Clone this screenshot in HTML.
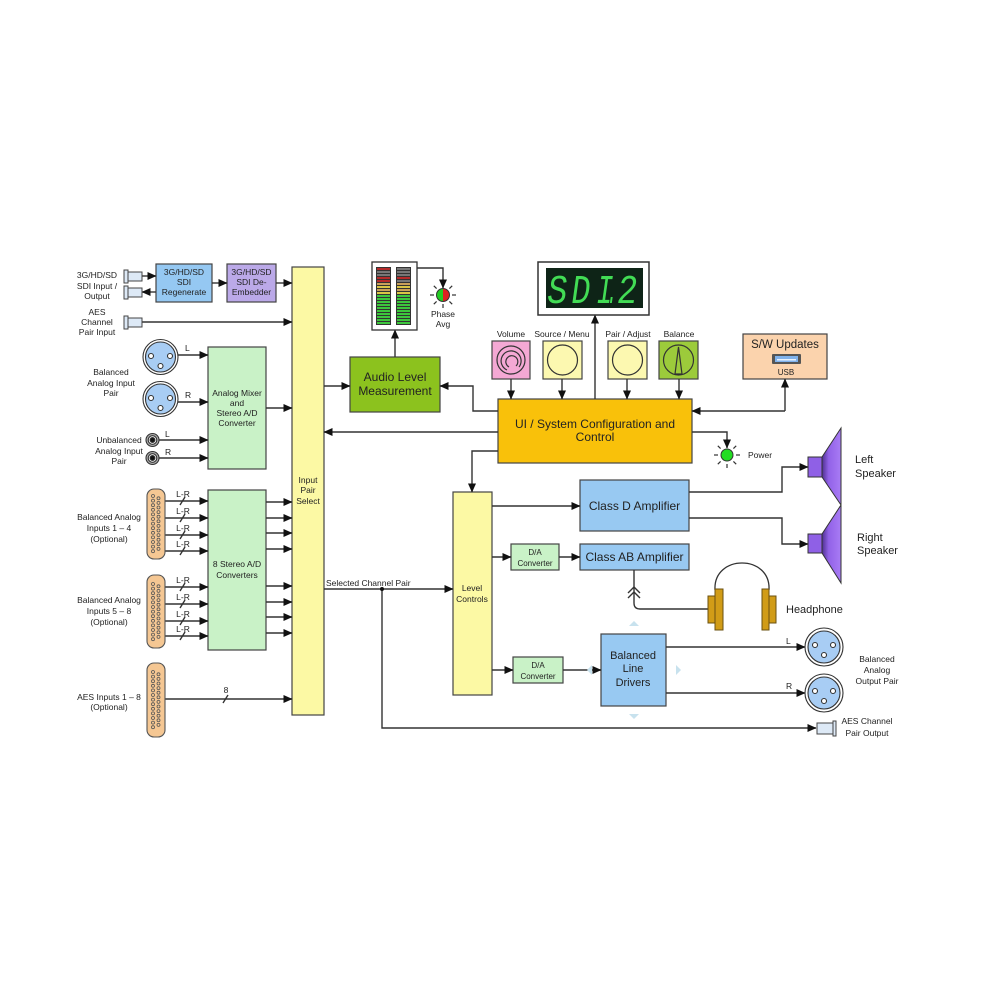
<!DOCTYPE html>
<html><head><meta charset="utf-8">
<style>
html,body{margin:0;padding:0;background:#fff;}
svg{display:block;}
text{font-family:"Liberation Sans",Arial,sans-serif;fill:#222;}
.s{font-size:8.5px;}
.m{text-anchor:middle;}
.b{font-size:12px;}
.ln{stroke:#333;stroke-width:1.4;fill:none;}
.bx{stroke:#444;stroke-width:1.2;}
</style></head><body>
<svg width="1000" height="1000" viewBox="0 0 1000 1000" xmlns="http://www.w3.org/2000/svg">
<defs>
<marker id="a" markerWidth="9" markerHeight="8" refX="8.5" refY="4" orient="auto" markerUnits="userSpaceOnUse"><path d="M0,0 L9,4 L0,8 z" fill="#111"/></marker>
<linearGradient id="cone" x1="0" x2="1" y1="0" y2="0"><stop offset="0" stop-color="#4e3090"/><stop offset="0.35" stop-color="#9262e8"/><stop offset="1" stop-color="#a97cf5"/></linearGradient>
<g id="pinsA" fill="none" stroke="#555" stroke-width="0.8">
<circle cx="0" cy="0" r="1.5"/><circle cx="0" cy="4.6" r="1.5"/><circle cx="0" cy="9.2" r="1.5"/><circle cx="0" cy="13.8" r="1.5"/><circle cx="0" cy="18.4" r="1.5"/><circle cx="0" cy="23" r="1.5"/><circle cx="0" cy="27.6" r="1.5"/><circle cx="0" cy="32.2" r="1.5"/><circle cx="0" cy="36.8" r="1.5"/><circle cx="0" cy="41.4" r="1.5"/><circle cx="0" cy="46" r="1.5"/><circle cx="0" cy="50.6" r="1.5"/><circle cx="0" cy="55.2" r="1.5"/>
<circle cx="5.5" cy="2.3" r="1.5"/><circle cx="5.5" cy="6.9" r="1.5"/><circle cx="5.5" cy="11.5" r="1.5"/><circle cx="5.5" cy="16.1" r="1.5"/><circle cx="5.5" cy="20.7" r="1.5"/><circle cx="5.5" cy="25.3" r="1.5"/><circle cx="5.5" cy="29.9" r="1.5"/><circle cx="5.5" cy="34.5" r="1.5"/><circle cx="5.5" cy="39.1" r="1.5"/><circle cx="5.5" cy="43.7" r="1.5"/><circle cx="5.5" cy="48.3" r="1.5"/><circle cx="5.5" cy="52.9" r="1.5"/>
</g>
</defs>

<!-- ===== Boxes ===== -->
<rect class="bx" x="292" y="267" width="32" height="448" fill="#fcf9a4"/>
<rect class="bx" x="453" y="492" width="39" height="203" fill="#fcf9a4"/>
<rect class="bx" x="156" y="264" width="56" height="38" fill="#95c8f2"/>
<rect class="bx" x="227" y="264" width="49" height="38" fill="#bba9e8"/>
<rect class="bx" x="208" y="347" width="58" height="122" fill="#c9f2c7"/>
<rect class="bx" x="208" y="490" width="58" height="160" fill="#c9f2c7"/>
<rect class="bx" x="350" y="357" width="90" height="55" fill="#8cc21e"/>
<rect class="bx" x="498" y="399" width="194" height="64" fill="#f9c10a"/>
<rect class="bx" x="743" y="334" width="84" height="45" fill="#fbd3ad"/>
<rect class="bx" x="580" y="480" width="109" height="51" fill="#98c9f2"/>
<rect class="bx" x="580" y="544" width="109" height="26" fill="#98c9f2"/>
<rect class="bx" x="511" y="544" width="48" height="26" fill="#c9f2c7"/>
<rect class="bx" x="513" y="657" width="50" height="26" fill="#c9f2c7"/>
<rect class="bx" x="601" y="634" width="65" height="72" fill="#98c9f2"/>

<!-- control boxes -->
<rect class="bx" x="492" y="341" width="38" height="38" fill="#f4a8d4"/>
<rect class="bx" x="543" y="341" width="39" height="38" fill="#fcf8b0"/>
<rect class="bx" x="608" y="341" width="39" height="38" fill="#fcf8b0"/>
<rect class="bx" x="659" y="341" width="39" height="38" fill="#9ccb3b"/>
<g fill="none" stroke="#333" stroke-width="1.2">
<circle cx="511" cy="360" r="14"/>
<path d="M507 370 A10 10 0 1 1 519 367"/>
<path d="M509 367 A6 6 0 1 1 516 366"/>
<circle cx="562.5" cy="360" r="15"/>
<circle cx="627.5" cy="360" r="15"/>
<circle cx="678.5" cy="360" r="15"/>
<path d="M675 374 L682 374 L678.5 347 Z"/>
</g>

<!-- ===== Connectors (lines) ===== -->
<g class="ln">
<path d="M142 276 H156" marker-end="url(#a)"/>
<path d="M156 292 H142" marker-end="url(#a)"/>
<path d="M212 283 H227" marker-end="url(#a)"/>
<path d="M276 283 H292" marker-end="url(#a)"/>
<path d="M142 322 H292" marker-end="url(#a)"/>
<path d="M178 355 H208" marker-end="url(#a)"/>
<path d="M178 402 H208" marker-end="url(#a)"/>
<path d="M159 440 H208" marker-end="url(#a)"/>
<path d="M159 458 H208" marker-end="url(#a)"/>
<path d="M266 408 H292" marker-end="url(#a)"/>
<path d="M165 501 H208" marker-end="url(#a)"/>
<path d="M165 518 H208" marker-end="url(#a)"/>
<path d="M165 535 H208" marker-end="url(#a)"/>
<path d="M165 551 H208" marker-end="url(#a)"/>
<path d="M165 587 H208" marker-end="url(#a)"/>
<path d="M165 604 H208" marker-end="url(#a)"/>
<path d="M165 621 H208" marker-end="url(#a)"/>
<path d="M165 636 H208" marker-end="url(#a)"/>
<path d="M266 502 H292" marker-end="url(#a)"/>
<path d="M266 518 H292" marker-end="url(#a)"/>
<path d="M266 533 H292" marker-end="url(#a)"/>
<path d="M266 549 H292" marker-end="url(#a)"/>
<path d="M266 586 H292" marker-end="url(#a)"/>
<path d="M266 602 H292" marker-end="url(#a)"/>
<path d="M266 617 H292" marker-end="url(#a)"/>
<path d="M266 633 H292" marker-end="url(#a)"/>
<path d="M165 699 H292" marker-end="url(#a)"/>
<path d="M324 386 H350" marker-end="url(#a)"/>
<path d="M498 411 H473 V386 H440" marker-end="url(#a)"/>
<path d="M395 357 V330" marker-end="url(#a)"/>
<path d="M417 268 H443 V288" marker-end="url(#a)"/>
<path d="M498 432 H324" marker-end="url(#a)"/>
<path d="M498 451 H472 V492" marker-end="url(#a)"/>
<path d="M595 399 V315" marker-end="url(#a)"/>
<path d="M511 379 V399" marker-end="url(#a)"/>
<path d="M562 379 V399" marker-end="url(#a)"/>
<path d="M627 379 V399" marker-end="url(#a)"/>
<path d="M679 379 V399" marker-end="url(#a)"/>
<path d="M785 411 H692" marker-end="url(#a)"/>
<path d="M785 411 V379" marker-end="url(#a)"/>
<path d="M692 432 H727 V448" marker-end="url(#a)"/>
<path d="M492 506 H580" marker-end="url(#a)"/>
<path d="M689 492 H782 V467 H808" marker-end="url(#a)"/>
<path d="M689 518 H782 V544 H808" marker-end="url(#a)"/>
<path d="M492 557 H511" marker-end="url(#a)"/>
<path d="M559 557 H580" marker-end="url(#a)"/>
<path d="M634 570 V603 Q634 609 640 609 H708"/>
<path d="M628 593 L634 587 L640 593"/>
<path d="M628 598 L634 592 L640 598"/>
<path d="M324 589 H453" marker-end="url(#a)"/>
<path d="M382 589 V728 H816" marker-end="url(#a)"/>
<path d="M492 670 H513" marker-end="url(#a)"/>
<path d="M563 670 H601" marker-end="url(#a)"/>
<path d="M666 647 H805" marker-end="url(#a)"/>
<path d="M666 693 H805" marker-end="url(#a)"/>
<!-- bus slashes -->
<path d="M180 505 L185 497"/><path d="M180 522 L185 514"/><path d="M180 539 L185 531"/><path d="M180 555 L185 547"/>
<path d="M180 591 L185 583"/><path d="M180 608 L185 600"/><path d="M180 625 L185 617"/><path d="M180 640 L185 632"/>
<path d="M223 703 L228 695"/>
</g>
<circle cx="382" cy="589" r="2" fill="#111"/>

<!-- BNC style connectors -->
<g stroke="#444" stroke-width="1">
<rect x="124" y="270" width="4" height="13" fill="#dde9f6"/><rect x="128" y="272" width="14" height="9" fill="#dde9f6"/>
<rect x="124" y="286" width="4" height="13" fill="#dde9f6"/><rect x="128" y="288" width="14" height="9" fill="#dde9f6"/>
<rect x="124" y="316" width="4" height="13" fill="#dde9f6"/><rect x="128" y="318" width="14" height="9" fill="#dde9f6"/>
<rect x="817" y="723" width="16" height="11" fill="#dde9f6"/><rect x="833" y="721" width="3" height="15" fill="#dde9f6"/>
</g>

<!-- XLR connectors -->
<g stroke="#333" stroke-width="1.1">
<circle cx="160.5" cy="357" r="17.5" fill="#fff"/><circle cx="160.5" cy="357" r="15" fill="#a8cdf4"/>
<circle cx="151" cy="356" r="2.5" fill="#fff"/><circle cx="170" cy="356" r="2.5" fill="#fff"/><circle cx="160.5" cy="366" r="2.5" fill="#fff"/>
<circle cx="160.5" cy="399" r="17.5" fill="#fff"/><circle cx="160.5" cy="399" r="15" fill="#a8cdf4"/>
<circle cx="151" cy="398" r="2.5" fill="#fff"/><circle cx="170" cy="398" r="2.5" fill="#fff"/><circle cx="160.5" cy="408" r="2.5" fill="#fff"/>
<circle cx="824" cy="647" r="19" fill="#fff"/><circle cx="824" cy="647" r="16" fill="#a8cdf4"/>
<circle cx="815" cy="645" r="2.5" fill="#fff"/><circle cx="833" cy="645" r="2.5" fill="#fff"/><circle cx="824" cy="655" r="2.5" fill="#fff"/>
<circle cx="824" cy="693" r="19" fill="#fff"/><circle cx="824" cy="693" r="16" fill="#a8cdf4"/>
<circle cx="815" cy="691" r="2.5" fill="#fff"/><circle cx="833" cy="691" r="2.5" fill="#fff"/><circle cx="824" cy="701" r="2.5" fill="#fff"/>
<!-- RCA -->
<circle cx="152.5" cy="440" r="6.5" fill="#aaa"/><circle cx="152.5" cy="440" r="4.3" fill="#fff"/><circle cx="152.5" cy="440" r="2.4" fill="#111"/>
<circle cx="152.5" cy="458" r="6.5" fill="#aaa"/><circle cx="152.5" cy="458" r="4.3" fill="#fff"/><circle cx="152.5" cy="458" r="2.4" fill="#111"/>
</g>

<!-- DB connectors -->
<g stroke="#555" stroke-width="1.1" fill="#f5c793">
<rect x="147" y="489" width="18" height="70" rx="7"/>
<rect x="147" y="575" width="18" height="73" rx="7"/>
<rect x="147" y="663" width="18" height="74" rx="7"/>
</g>
<use href="#pinsA" x="153" y="496"/>
<use href="#pinsA" x="153" y="584"/>
<use href="#pinsA" x="153" y="672"/>

<!-- Level meter -->
<rect x="372" y="262" width="45" height="68" fill="#fff" stroke="#333" stroke-width="1.3"/>
<rect x="376" y="267" width="15" height="58" fill="#333"/>
<rect x="396" y="267" width="15" height="58" fill="#333"/>
<g>
<rect x="377" y="268" width="13" height="2" fill="#b52a2a"/><rect x="377" y="271" width="13" height="2" fill="#777"/><rect x="377" y="274" width="13" height="2" fill="#777"/><rect x="377" y="277" width="13" height="2" fill="#b52a2a"/><rect x="377" y="280" width="13" height="2" fill="#b52a2a"/><rect x="377" y="283" width="13" height="2" fill="#c9a05a"/><rect x="377" y="286" width="13" height="2" fill="#d8c545"/><rect x="377" y="289" width="13" height="2" fill="#c9a05a"/><rect x="377" y="292" width="13" height="2" fill="#d8c545"/>
<rect x="397" y="268" width="13" height="2" fill="#777"/><rect x="397" y="271" width="13" height="2" fill="#777"/><rect x="397" y="274" width="13" height="2" fill="#777"/><rect x="397" y="277" width="13" height="2" fill="#b52a2a"/><rect x="397" y="280" width="13" height="2" fill="#777"/><rect x="397" y="283" width="13" height="2" fill="#c9a05a"/><rect x="397" y="286" width="13" height="2" fill="#d8c545"/><rect x="397" y="289" width="13" height="2" fill="#c9a05a"/><rect x="397" y="292" width="13" height="2" fill="#d8c545"/>
</g>
<g fill="#3cc63c">
<rect x="377" y="295" width="13" height="2"/><rect x="377" y="298" width="13" height="2"/><rect x="377" y="301" width="13" height="2"/><rect x="377" y="304" width="13" height="2"/><rect x="377" y="307" width="13" height="2"/><rect x="377" y="310" width="13" height="2"/><rect x="377" y="313" width="13" height="2"/><rect x="377" y="316" width="13" height="2"/><rect x="377" y="319" width="13" height="2"/><rect x="377" y="322" width="13" height="2"/>
<rect x="397" y="295" width="13" height="2"/><rect x="397" y="298" width="13" height="2"/><rect x="397" y="301" width="13" height="2"/><rect x="397" y="304" width="13" height="2"/><rect x="397" y="307" width="13" height="2"/><rect x="397" y="310" width="13" height="2"/><rect x="397" y="313" width="13" height="2"/><rect x="397" y="316" width="13" height="2"/><rect x="397" y="319" width="13" height="2"/><rect x="397" y="322" width="13" height="2"/>
</g>

<!-- Phase LED -->
<path d="M443 288.5 A6.5 6.5 0 0 0 443 301.5 Z" fill="#22cc22"/>
<path d="M443 288.5 A6.5 6.5 0 0 1 443 301.5 Z" fill="#dd2222"/>
<circle cx="443" cy="295" r="6.5" fill="none" stroke="#333" stroke-width="1"/>
<g stroke="#333" stroke-width="1.2">
<path d="M452 295 H456"/><path d="M434 295 H430"/><path d="M443 304 V308"/>
<path d="M449.4 288.6 L452.2 285.8"/><path d="M436.6 288.6 L433.8 285.8"/><path d="M449.4 301.4 L452.2 304.2"/><path d="M436.6 301.4 L433.8 304.2"/>
</g>

<!-- Power LED -->
<circle cx="727" cy="455" r="6" fill="#22dd22" stroke="#333" stroke-width="1"/>
<g stroke="#333" stroke-width="1.2">
<path d="M736 455 H740"/><path d="M718 455 H714"/><path d="M727 464 V468"/>
<path d="M733.4 448.6 L736.2 445.8"/><path d="M720.6 448.6 L717.8 445.8"/><path d="M733.4 461.4 L736.2 464.2"/><path d="M720.6 461.4 L717.8 464.2"/>
</g>

<!-- Display -->
<rect x="538" y="262" width="111" height="53" fill="#fff" stroke="#333" stroke-width="1.5"/>
<rect x="546" y="268" width="97" height="40" fill="#0e2417"/>
<g transform="translate(40.5,0) skewX(-8)">
<text x="548" y="303" font-size="41" textLength="20" lengthAdjust="spacingAndGlyphs" style="font-family:'Liberation Mono',monospace;fill:#42dc55">S</text>
<text x="572" y="303" font-size="41" textLength="19" lengthAdjust="spacingAndGlyphs" style="font-family:'Liberation Mono',monospace;fill:#42dc55">D</text>
<text x="597" y="303" font-size="41" textLength="17" lengthAdjust="spacingAndGlyphs" style="font-family:'Liberation Mono',monospace;fill:#42dc55">I</text>
<text x="608" y="303" font-size="41" textLength="10" lengthAdjust="spacingAndGlyphs" style="font-family:'Liberation Mono',monospace;fill:#42dc55">.</text>
<text x="618" y="303" font-size="41" textLength="20" lengthAdjust="spacingAndGlyphs" style="font-family:'Liberation Mono',monospace;fill:#42dc55">2</text>
</g>

<!-- USB icon -->
<rect x="772" y="354" width="29" height="10" fill="#555" rx="1"/>
<rect x="775" y="356" width="23" height="6" fill="#80b2ec"/>
<rect x="777" y="359" width="19" height="1.5" fill="#e8f2ff"/>

<!-- Speakers -->
<g stroke="#333" stroke-width="1">
<rect x="808" y="457" width="14" height="20" fill="#8f60e6"/>
<polygon points="822,457 841,428 841,505 822,477" fill="url(#cone)"/>
<rect x="808" y="534" width="14" height="19" fill="#8f60e6"/>
<polygon points="822,534 841,505 841,583 822,553" fill="url(#cone)"/>
</g>

<!-- Headphone -->
<path d="M715 590 C 713 554, 771 554, 769 590" fill="none" stroke="#333" stroke-width="1.3"/>
<g fill="#d19c17" stroke="#6a5010" stroke-width="1">
<rect x="708" y="596" width="7" height="27"/>
<rect x="715" y="589" width="8" height="41"/>
<rect x="762" y="589" width="7" height="41"/>
<rect x="769" y="596" width="7" height="27"/>
</g>

<!-- faint handles -->
<g fill="#c8e2ee">
<polygon points="629,626 639,626 634,621"/>
<polygon points="629,714 639,714 634,719"/>
<polygon points="676,665 676,675 681,670"/>
<polygon points="592,665 592,675 587,670"/>
</g>

<!-- ===== Text ===== -->
<g class="s m">
<text x="97" y="278">3G/HD/SD</text><text x="97" y="289">SDI Input /</text><text x="97" y="299">Output</text>
<text x="97" y="315">AES</text><text x="97" y="325">Channel</text><text x="97" y="335">Pair Input</text>
<text x="111" y="375">Balanced</text><text x="111" y="386">Analog Input</text><text x="111" y="396">Pair</text>
<text x="119" y="443">Unbalanced</text><text x="119" y="454">Analog Input</text><text x="119" y="464">Pair</text>
<text x="109" y="520">Balanced Analog</text><text x="109" y="531">Inputs 1 – 4</text><text x="109" y="542">(Optional)</text>
<text x="109" y="603">Balanced Analog</text><text x="109" y="614">Inputs 5 – 8</text><text x="109" y="625">(Optional)</text>
<text x="109" y="700">AES Inputs 1 – 8</text><text x="109" y="710">(Optional)</text>

<text x="184" y="275">3G/HD/SD</text><text x="184" y="285">SDI</text><text x="184" y="295">Regenerate</text>
<text x="251.5" y="275">3G/HD/SD</text><text x="251.5" y="285">SDI De-</text><text x="251.5" y="295">Embedder</text>
<text x="237" y="396">Analog Mixer</text><text x="237" y="406">and</text><text x="237" y="416">Stereo A/D</text><text x="237" y="426">Converter</text>
<text x="237" y="567">8 Stereo A/D</text><text x="237" y="578">Converters</text>
<text x="308" y="483">Input</text><text x="308" y="493">Pair</text><text x="308" y="504">Select</text>

<text x="183" y="497">L-R</text><text x="183" y="514">L-R</text><text x="183" y="531">L-R</text><text x="183" y="547">L-R</text>
<text x="183" y="583">L-R</text><text x="183" y="600">L-R</text><text x="183" y="617">L-R</text><text x="183" y="632">L-R</text>
<text x="226" y="693">8</text>

<text x="443" y="317">Phase</text><text x="443" y="327">Avg</text>
<text x="511" y="337">Volume</text><text x="562" y="337">Source / Menu</text><text x="628" y="337">Pair / Adjust</text><text x="679" y="337">Balance</text>
<text x="472" y="591">Level</text><text x="472" y="602">Controls</text>
<text x="877" y="662">Balanced</text><text x="877" y="673">Analog</text><text x="877" y="684">Output Pair</text>
<text x="867" y="724">AES Channel</text><text x="867" y="736">Pair Output</text>
</g>
<g class="s">
<text x="185" y="351">L</text><text x="185" y="398">R</text>
<text x="165" y="437">L</text><text x="165" y="455">R</text>
<text x="326" y="586">Selected Channel Pair</text>
<text x="748" y="458">Power</text>
<text x="786" y="644">L</text><text x="786" y="689">R</text>
</g>
<g class="m" font-size="8">
<text x="535" y="555" style="font-size:8px">D/A</text><text x="535" y="566" style="font-size:8px">Converter</text>
<text x="538" y="668" style="font-size:8px">D/A</text><text x="538" y="679" style="font-size:8px">Converter</text>
<text x="786" y="375" style="font-size:8px">USB</text>
</g>
<g class="b m">
<text x="395" y="381">Audio Level</text><text x="395" y="395">Measurement</text>
<text x="595" y="428">UI / System Configuration and</text><text x="595" y="441">Control</text>
<text x="634.5" y="510">Class D Amplifier</text>
<text x="634.5" y="561">Class AB Amplifier</text>
<text x="785" y="348" style="font-size:11.5px">S/W Updates</text>
<text x="633" y="659" style="font-size:11px">Balanced</text><text x="633" y="672" style="font-size:11px">Line</text><text x="633" y="686" style="font-size:11px">Drivers</text>
</g>
<g style="font-size:11px">
<text x="855" y="463">Left</text><text x="855" y="477">Speaker</text>
<text x="857" y="541">Right</text><text x="857" y="554">Speaker</text>
<text x="786" y="613">Headphone</text>
</g>
</svg>
</body></html>
